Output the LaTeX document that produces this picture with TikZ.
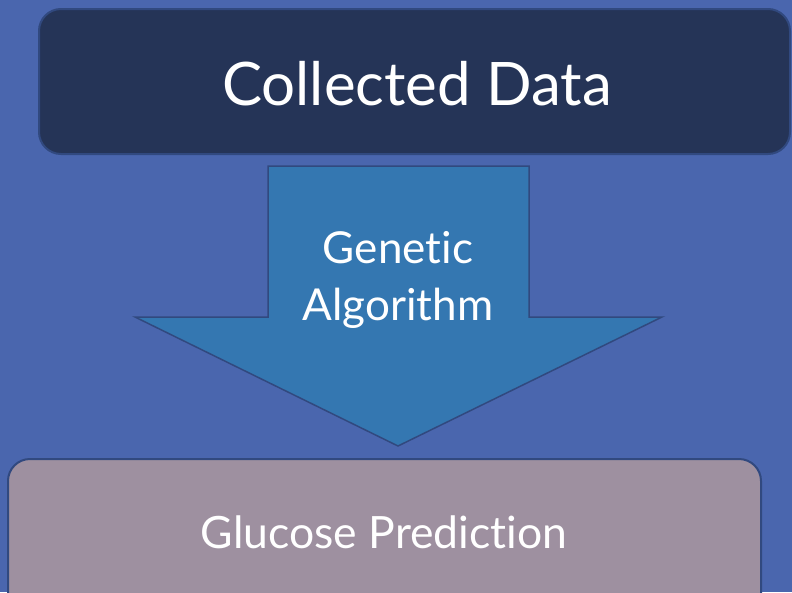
\documentclass[tikz,border=0pt]{standalone}
\usepackage{fontspec}
\setmainfont{Lato}[Ligatures=NoCommon]
\definecolor{bg}{HTML}{4A66AE}
\definecolor{topfill}{HTML}{253457}
\definecolor{edge}{HTML}{31497F}
\definecolor{arrowfill}{HTML}{3477B1}
\definecolor{botfill}{HTML}{9E90A0}
\begin{document}
\begin{tikzpicture}[x=1pt,y=-1pt,
  boxstyle/.style={draw=edge, line width=2pt, rounded corners=22pt},
  txt/.style={text=white, align=center, inner sep=0pt}]
\fill[bg] (0,0) rectangle (792,592);
\useasboundingbox (0,0) rectangle (792,592);
\begin{scope}
\clip (0,0) rectangle (792,592);
\draw[boxstyle, fill=topfill] (39,9) rectangle (790,154);
\draw[boxstyle, fill=botfill] (8,459) rectangle (761,640);
\draw[draw=edge, line width=1.5pt, fill=arrowfill, line join=miter]
  (268,166) -- (529,166) -- (529,317) -- (662,317) -- (398,446) -- (135,317) -- (268,317) -- cycle;
\end{scope}
\node[txt, font=\fontsize{60}{66}\selectfont] (top) at (417,84) {Collected Data};
\node[txt, font=\fontsize{44}{57}\selectfont] (mid) at (398,280) {Genetic\\Algorithm};
\node[txt, font=\fontsize{44.5}{50}\selectfont] (bot) at (384,532) {Glucose Prediction};
\end{tikzpicture}
\end{document}
